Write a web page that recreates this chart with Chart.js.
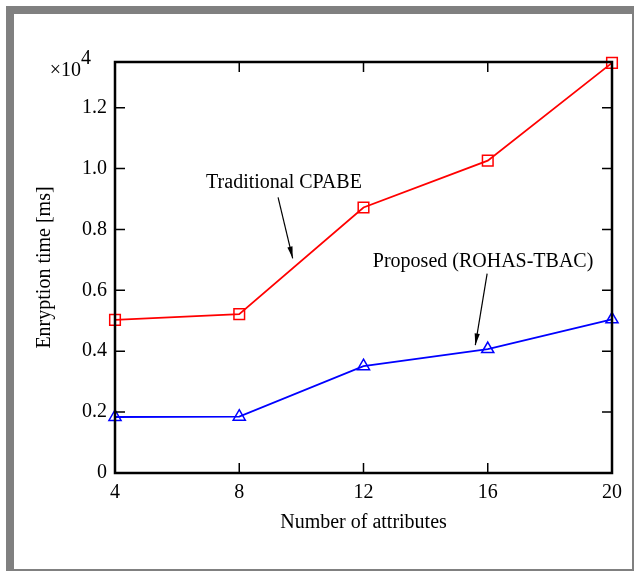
<!DOCTYPE html>
<html>
<head>
<meta charset="utf-8">
<script src="https://cdn.jsdelivr.net/npm/chart.js@4/dist/chart.umd.min.js"></script>
<style>
  body { margin: 0; background: #fff; }
  #frame {
    position: absolute; left: 6px; top: 6px; width: 618px; height: 555px;
    border-left: 8px solid #808080; border-top: 8px solid #808080;
    border-right: 2px solid #808080; border-bottom: 2px solid #808080;
  }
  #wrap { position: absolute; left: 0; top: 0; width: 635px; height: 571px; }
</style>
</head>
<body>
<div id="frame"></div>
<div id="wrap"><canvas id="myChart" width="635" height="571"></canvas></div>
<script>
// attributes on the x axis
var attributes = [4, 8, 12, 16, 20];
// encryption time, in units of 10^4 ms
var traditionalCpabe = [0.503, 0.522, 0.872, 1.026, 1.347];
var proposedRohas = [0.184, 0.185, 0.351, 0.407, 0.505];
var yTicks = [0, 0.2, 0.4, 0.6, 0.8, 1.0, 1.2];
var xTicks = [4, 8, 12, 16, 20];

var serif = "'Liberation Serif', 'Times New Roman', serif";

function toPoints(xs, ys) {
    return xs.map(function (x, i) { return { x: x, y: ys[i] }; });
}

// box, inward ticks, multiplier and the two arrow notes
var decorations = {
    id: 'decorations',
    afterDatasetsDraw: function (chart) {
        var ctx = chart.ctx;
        var a = chart.chartArea;
        var xs = chart.scales.x, ys = chart.scales.y;
        ctx.save();
        ctx.strokeStyle = '#000';
        ctx.lineWidth = 1.5;
        ctx.beginPath();
        xTicks.forEach(function (t) {
            var px = xs.getPixelForValue(t);
            ctx.moveTo(px, a.bottom); ctx.lineTo(px, a.bottom - 10);
            ctx.moveTo(px, a.top); ctx.lineTo(px, a.top + 10);
        });
        yTicks.forEach(function (t) {
            var py = ys.getPixelForValue(t);
            ctx.moveTo(a.left, py); ctx.lineTo(a.left + 10, py);
            ctx.moveTo(a.right, py); ctx.lineTo(a.right - 10, py);
        });
        ctx.stroke();
        ctx.lineWidth = 2.5;
        ctx.strokeRect(a.left, a.top, a.right - a.left, a.bottom - a.top);

        // x10^4
        ctx.fillStyle = '#000';
        ctx.font = '20px ' + serif;
        ctx.textAlign = 'right';
        ctx.textBaseline = 'middle';
        ctx.fillText('\u00d710', a.left - 34, a.top + 9);
        ctx.textAlign = 'left';
        ctx.fillText('4', a.left - 34, a.top - 3);

        function note(text, tx, ty, x1, y1, x2, y2) {
            ctx.font = '20px ' + serif;
            ctx.textAlign = 'center';
            ctx.textBaseline = 'middle';
            ctx.fillText(text, xs.getPixelForValue(tx), ys.getPixelForValue(ty));
            var sx = xs.getPixelForValue(x1), sy = ys.getPixelForValue(y1);
            var ex = xs.getPixelForValue(x2), ey = ys.getPixelForValue(y2);
            ctx.lineWidth = 1.2;
            ctx.beginPath();
            ctx.moveTo(sx, sy); ctx.lineTo(ex, ey);
            ctx.stroke();
            var ang = Math.atan2(ey - sy, ex - sx);
            var len = 12, half = 0.22;
            ctx.beginPath();
            ctx.moveTo(ex, ey);
            ctx.lineTo(ex - len * Math.cos(ang - half), ey - len * Math.sin(ang - half));
            ctx.lineTo(ex - len * Math.cos(ang + half), ey - len * Math.sin(ang + half));
            ctx.closePath();
            ctx.fill();
        }
        note('Traditional CPABE', 9.44, 0.955, 9.25, 0.905, 9.72, 0.705);
        note('Proposed (ROHAS-TBAC)', 15.85, 0.695, 15.98, 0.655, 15.6, 0.42);
        ctx.restore();
    }
};

var ctx = document.getElementById('myChart').getContext('2d');
var chart = new Chart(ctx, {
    type: 'line',
    data: {
        datasets: [{
            label: 'Traditional CPABE',
            data: toPoints(attributes, traditionalCpabe),
            borderColor: 'rgb(255, 0, 0)',
            backgroundColor: 'rgba(0, 0, 0, 0)',
            borderWidth: 1.8,
            pointStyle: 'rect',
            pointRadius: 7.5,
            pointBorderWidth: 1.5,
            pointBorderColor: 'rgb(255, 0, 0)',
            pointBackgroundColor: 'rgba(0, 0, 0, 0)'
        }, {
            label: 'Proposed (ROHAS-TBAC)',
            data: toPoints(attributes, proposedRohas),
            borderColor: 'rgb(0, 0, 255)',
            backgroundColor: 'rgba(0, 0, 0, 0)',
            borderWidth: 1.8,
            pointStyle: 'triangle',
            pointRadius: 7,
            pointBorderWidth: 1.5,
            pointBorderColor: 'rgb(0, 0, 255)',
            pointBackgroundColor: 'rgba(0, 0, 0, 0)'
        }]
    },
    options: {
        responsive: false,
        animation: false,
        clip: false,
        layout: { padding: { left: 33, top: 62, right: 23, bottom: 36 } },
        plugins: { legend: { display: false }, tooltip: { enabled: false } },
        scales: {
            x: {
                type: 'linear',
                min: 4, max: 20,
                grid: { display: false },
                border: { display: false },
                afterFit: function (s) { s.height = 62; },
                afterBuildTicks: function (s) { s.ticks = xTicks.map(function (v) { return { value: v }; }); },
                ticks: { padding: 0, color: '#000', font: { family: serif, size: 20 }, maxRotation: 0 },
                title: { display: true, text: 'Number of attributes', color: '#000', padding: 0, font: { family: serif, size: 20 } }
            },
            y: {
                min: 0, max: 1.35,
                grid: { display: false },
                border: { display: false },
                afterFit: function (s) { s.width = 82; },
                afterBuildTicks: function (s) { s.ticks = yTicks.map(function (v) { return { value: v }; }); },
                ticks: {
                    padding: 0, color: '#000', font: { family: serif, size: 20 },
                    callback: function (v) { return v === 0 ? '0' : v.toFixed(1); }
                },
                title: { display: true, text: 'Enryption time [ms]', color: '#000', padding: 0, font: { family: serif, size: 20 } }
            }
        }
    },
    plugins: [decorations]
});
</script>
</body>
</html>
